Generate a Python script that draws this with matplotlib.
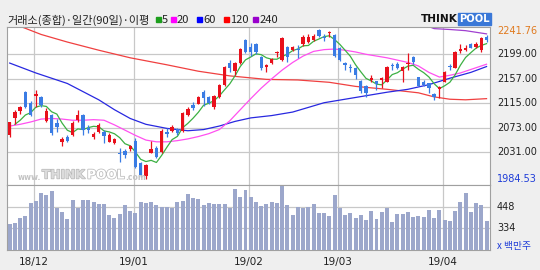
import numpy as np
import pandas as pd
import matplotlib
matplotlib.use("Agg")
import matplotlib.pyplot as plt
from matplotlib.patches import Rectangle
from matplotlib import patheffects as pe
from matplotlib.transforms import blended_transform_factory as btf

# ---------------- data ----------------
opens = [2060.6, 2090.3, 2101.8, 2134.9, 2114.9, 2126.9, 2125.2, 2084.6, 2094.9, 2081.8,
         2048.1, 2057.2, 2060.6, 2086.3, 2094.9, 2072.6, 2056.6, 2066.3, 2065.2, 2049.2,
         2046.3, 2030.3, 2033.2, 2036.1, 2050.5, 2012.1, 1990.9, 2030.3, 2038.9, 2032.0,
         2065.2, 2067.5, 2070.9, 2067.5, 2094.9, 2112.0, 2113.8, 2134.0, 2126.4, 2108.1,
         2125.2, 2146.4, 2184.7, 2171.0, 2183.5, 2223.5, 2212.1, 2216.1, 2194.9, 2177.8,
         2183.5, 2200.6, 2190.0, 2212.1, 2206.0, 2208.0, 2216.0, 2220.6, 2223.5, 2240.0,
         2229.2, 2234.9, 2232.0, 2210.5, 2183.5, 2177.8, 2175.5, 2154.0, 2144.0, 2155.0,
         2153.0, 2154.9, 2152.0, 2181.5, 2183.0, 2169.8, 2181.8, 2193.8, 2159.5, 2152.0,
         2149.2, 2131.5, 2140.0, 2152.0, 2178.6, 2176.0, 2204.6, 2206.3, 2216.0, 2212.0,
         2206.3, 2229.2]
highs = [2083.0, 2103.5, 2110.9, 2136.6, 2119.0, 2137.2, 2127.5, 2106.3, 2096.0, 2088.0,
         2056.6, 2060.6, 2084.0, 2103.5, 2096.0, 2077.8, 2065.2, 2080.6, 2069.2, 2063.5,
         2056.0, 2037.8, 2037.0, 2044.0, 2054.9, 2014.9, 2011.0, 2050.3, 2042.4, 2070.9,
         2072.0, 2078.0, 2073.0, 2100.6, 2109.2, 2116.6, 2128.0, 2137.0, 2128.0, 2130.0,
         2148.0, 2179.0, 2189.0, 2185.0, 2209.0, 2225.0, 2219.0, 2218.0, 2196.0, 2181.8,
         2193.0, 2204.6, 2228.0, 2213.0, 2213.0, 2214.9, 2232.0, 2233.2, 2233.0, 2241.76,
         2233.2, 2238.9, 2233.0, 2212.0, 2186.3, 2181.8, 2177.0, 2155.5, 2146.0, 2163.5,
         2154.0, 2160.6, 2179.0, 2183.5, 2185.0, 2179.0, 2200.6, 2196.6, 2160.5, 2155.0,
         2150.0, 2133.0, 2144.5, 2170.5, 2181.8, 2204.0, 2216.0, 2214.9, 2218.0, 2220.6,
         2228.0, 2232.0]
lows = [2058.0, 2078.9, 2096.0, 2107.0, 2093.8, 2109.2, 2108.6, 2083.0, 2060.6, 2065.2,
        2042.4, 2048.1, 2059.5, 2083.5, 2060.6, 2063.5, 2053.8, 2063.5, 2046.3, 2048.1,
        2044.6, 2014.9, 2022.0, 2034.0, 2003.6, 1989.2, 1984.53, 2029.0, 2021.8, 2030.0,
        2057.8, 2066.0, 2060.6, 2066.0, 2093.5, 2103.5, 2113.0, 2110.0, 2113.0, 2106.0,
        2124.0, 2145.0, 2169.0, 2163.5, 2182.0, 2201.0, 2196.1, 2200.0, 2172.0, 2169.2,
        2182.0, 2195.0, 2188.0, 2186.3, 2204.0, 2192.0, 2214.0, 2219.0, 2222.0, 2229.5,
        2221.8, 2229.2, 2195.0, 2188.0, 2172.0, 2168.0, 2156.0, 2132.0, 2126.0, 2150.9,
        2137.0, 2140.6, 2151.0, 2172.0, 2174.0, 2152.0, 2172.0, 2181.8, 2144.0, 2144.0,
        2132.0, 2120.6, 2124.8, 2151.0, 2172.0, 2175.0, 2200.6, 2204.6, 2209.0, 2209.2,
        2203.5, 2220.6]
closes = [2082.3, 2099.5, 2108.6, 2109.2, 2094.9, 2130.3, 2112.1, 2101.8, 2063.5, 2074.9,
          2053.2, 2050.9, 2081.8, 2094.9, 2069.2, 2069.8, 2062.3, 2077.8, 2059.5, 2060.6,
          2053.8, 2028.6, 2026.3, 2041.8, 2006.5, 1992.1, 2009.2, 2036.6, 2023.5, 2067.5,
          2061.8, 2074.9, 2063.5, 2097.8, 2105.2, 2106.3, 2125.2, 2124.0, 2115.0, 2127.5,
          2146.4, 2177.8, 2175.0, 2183.5, 2207.5, 2203.5, 2202.3, 2202.5, 2176.0, 2180.6,
          2191.5, 2202.3, 2226.3, 2194.9, 2211.5, 2205.8, 2229.2, 2229.2, 2230.9, 2230.9,
          2226.3, 2236.6, 2196.6, 2189.8, 2180.6, 2174.9, 2163.8, 2136.3, 2133.0, 2158.9,
          2147.3, 2157.8, 2177.8, 2179.5, 2175.0, 2177.8, 2183.5, 2185.2, 2145.0, 2146.4,
          2140.6, 2125.8, 2143.0, 2169.2, 2176.8, 2203.5, 2208.0, 2210.3, 2210.3, 2216.0,
          2226.3, 2223.5]
volumes = [357, 364, 387, 399, 466, 480, 519, 510, 533, 439,
           422, 381, 483, 443, 483, 483, 475, 462, 462, 404,
           387, 410, 457, 425, 413, 473, 466, 473, 455, 448,
           448, 443, 473, 478, 515, 496, 487, 455, 468, 461,
           464, 461, 443, 542, 501, 536, 501, 473, 452, 461,
           471, 466, 557, 455, 404, 448, 439, 446, 461, 417,
           413, 399, 510, 441, 404, 413, 390, 404, 376, 427,
           385, 422, 439, 369, 410, 410, 422, 395, 399, 395,
           431, 390, 431, 378, 373, 427, 473, 522, 422, 466,
           457, 372]

# moving averages (index, value)
ma5_head_idx = [1, 2, 3]
ma5_head_val = [2079, 2086, 2095]
ma20_idx = [0, 2, 4, 6, 8, 10, 12, 14, 16, 18, 20, 22, 24, 26, 28, 30, 32, 34, 36, 38,
            40, 42, 44, 46, 48, 50, 52, 54, 56, 58, 60, 62, 64, 66, 68, 70, 72, 74, 76,
            78, 80, 82, 84, 86, 88, 91]
ma20_val = [2076, 2079, 2083, 2088, 2089, 2088, 2086, 2086, 2087, 2086, 2078, 2069, 2060,
            2052, 2049, 2049, 2051, 2054, 2058, 2063, 2070, 2085, 2104, 2123, 2141, 2157,
            2172, 2185, 2196, 2204, 2207, 2208, 2206, 2203, 2199, 2196, 2193, 2189, 2185,
            2179, 2168, 2160, 2163, 2167, 2173, 2182]
ma60_idx = [0, 5, 11, 17, 20, 23, 26, 30, 34, 37, 40, 43, 46, 50, 54, 57, 60, 64, 68,
            72, 76, 80, 84, 88, 91]
ma60_val = [2184, 2167, 2149, 2121, 2104, 2089, 2079, 2072, 2068, 2070, 2076, 2084, 2090,
            2094, 2100, 2108, 2116, 2122, 2128, 2134, 2139, 2147, 2158, 2168, 2178]
ma120_idx = [0, 2, 6, 11, 17, 23, 30, 36, 42, 49, 55, 61, 66, 72, 78, 81, 84, 87, 91]
ma120_val = [2253, 2247, 2233, 2220, 2206, 2193, 2181, 2170, 2162, 2156, 2155, 2151, 2144,
             2139, 2133, 2126, 2122, 2121, 2123]
ma240_idx = [79, 81, 84, 87, 91]
ma240_val = [2250, 2243, 2241.5, 2239.5, 2234]

month_labels = ["18/12", "19/01", "19/02", "19/03", "19/04"]
month_idx = [5, 24, 46, 63, 83]
price_ticks = [2199, 2157, 2115, 2073, 2031]
vol_ticks = [448, 334]
price_max, price_min = 2241.76, 1984.53

# ---------------- figure ----------------
W, H = 540, 270
fig = plt.figure(figsize=(W / 100, H / 100), dpi=100)
fig.patch.set_facecolor("#efefef")


def rect(l, t, r, b):
    return [l / W, 1 - b / H, (r - l) / W, (b - t) / H]


def fx(px):
    return px / W


def fy(py):
    return 1 - py / H


ax = fig.add_axes(rect(6.7, 26.7, 490, 185))
axv = fig.add_axes(rect(6.7, 185, 490, 250))
for a in (ax, axv):
    a.set_facecolor("white")
    for s in a.spines.values():
        s.set_color("#a0a0a0")
        s.set_linewidth(0.8)
    a.tick_params(left=False, bottom=False, right=False, top=False,
                  labelleft=False, labelbottom=False)
    a.set_xlim(-0.57, 91.66)
    a.set_xticks([m - 0.36 for m in month_idx])
    a.grid(True, color="#c8c8c8", lw=0.9)
    a.set_axisbelow(True)

ax.set_ylim(1975.0, 2246.3)
ax.set_yticks(price_ticks)
axv.set_ylim(219.4, 562.6)
axv.set_yticks(vol_ticks)

o = np.array(opens); h = np.array(highs); l = np.array(lows); c = np.array(closes)
x = np.arange(len(c))

# moving averages
ma5 = pd.Series(c).rolling(5).mean().to_numpy()
ma5_x = np.concatenate([ma5_head_idx, x[4:]])
ma5_y = np.concatenate([ma5_head_val, ma5[4:]])
ax.plot(ma240_idx, ma240_val, color="#a040d0", lw=0.9, zorder=2)
ax.plot(ma120_idx, ma120_val, color="#f04040", lw=0.9, zorder=2)
ax.plot(ma60_idx, ma60_val, color="#2828e0", lw=0.9, zorder=2)
ax.plot(ma20_idx, ma20_val, color="#ff50f0", lw=0.9, zorder=2)
ax.plot(ma5_x, ma5_y, color="#3cb043", lw=0.9, zorder=2)

# candles
red, blue = "#e8101c", "#3a7ce4"
col = np.where(c >= o, red, blue)
ax.vlines(x, l, h, colors=col, lw=0.9, zorder=3)
body = np.maximum(np.abs(c - o), 1.3)
ax.bar(x, body, bottom=np.minimum(o, c), width=0.64, color=col, lw=0, zorder=4)

# volume
axv.bar(x, volumes, width=0.76, color="#9ca7cb", lw=0, zorder=3)

# right labels
tp = btf(ax.transAxes, ax.transData)
xr = 1 + 7 / 483.3
for t in price_ticks:
    ax.text(xr, t, f"{t:.2f}", transform=tp, va="center", ha="left", fontsize=7, color="#222222")
ax.text(xr, price_max - 2.5, f"{price_max:.2f}", transform=tp, va="center", ha="left",
        fontsize=7, color="#e07a1f")
ax.text(xr, price_min, f"{price_min:.2f}", transform=tp, va="center", ha="left",
        fontsize=7, color="#1e3cd8")
tv = btf(axv.transAxes, axv.transData)
for t in vol_ticks:
    axv.text(xr, t, f"{t}", transform=tv, va="center", ha="left", fontsize=7, color="#222222")
fig.text(fx(497), fy(246), "x 백만주", fontsize=7, color="#1e3cd8", va="center", ha="left",
         family=["Noto Sans CJK KR", "DejaVu Sans"])

# date labels
td = btf(axv.transData, axv.transAxes)
for m, lab in zip(month_idx, month_labels):
    axv.text(m - 0.36, -0.185, lab, transform=td, ha="center", va="center",
             fontsize=7.5, color="#222222")

# title and legend
fig.text(fx(7), fy(20), "거래소(종합)·일간(90일)·이평", fontsize=8, color="#222222",
         va="center", ha="left", family=["Noto Sans CJK KR", "DejaVu Sans"])
leg = [("5", "#1c9e1c", 156, 162), ("20", "#ff00ff", 170.7, 177),
       ("60", "#0000ff", 196.7, 203), ("120", "#ff0000", 224, 230.5),
       ("240", "#9900cc", 253.3, 260)]
for lab, cc, sx, tx in leg:
    fig.patches.append(Rectangle((fx(sx), fy(21.5)), 4.8 / W, 4.8 / H, color=cc,
                                 transform=fig.transFigure, figure=fig))
    fig.text(fx(tx), fy(20), lab, fontsize=8, color="#222222", va="center", ha="left",
             family=["Noto Sans CJK KR", "DejaVu Sans"])

# THINKPOOL logo
fig.text(fx(458), fy(19), "THINK", fontsize=7.6, fontweight="heavy", color="#111111",
         ha="right", va="center")
fig.patches.append(Rectangle((fx(458), fy(24.5)), 33 / W, 11.5 / H, color="#3a78d8",
                             transform=fig.transFigure, figure=fig))
fig.text(fx(474.5), fy(19), "POOL", fontsize=7.2, fontweight="bold", color="white",
         ha="center", va="center")

# watermark
wm = "#c4c4c4"
fig.text(fx(41), fy(177), "www.", fontsize=5.5, color=wm, fontweight="bold",
         va="center", ha="right")
fig.text(fx(42), fy(175), "THINK", fontsize=8.8, color="#dcdcdc", fontweight="heavy",
         va="center", ha="left",
         path_effects=[pe.withStroke(linewidth=1.0, foreground="#b8b8b8")])
fig.text(fx(87), fy(175), "POOL", fontsize=8.8, color="white", fontweight="heavy",
         va="center", ha="left",
         path_effects=[pe.withStroke(linewidth=1.2, foreground="#c0c0c0")])
fig.text(fx(125), fy(177), ".com", fontsize=5.5, color=wm, fontweight="bold",
         va="center", ha="left")

fig.savefig("out.png", dpi=100, facecolor=fig.get_facecolor())
